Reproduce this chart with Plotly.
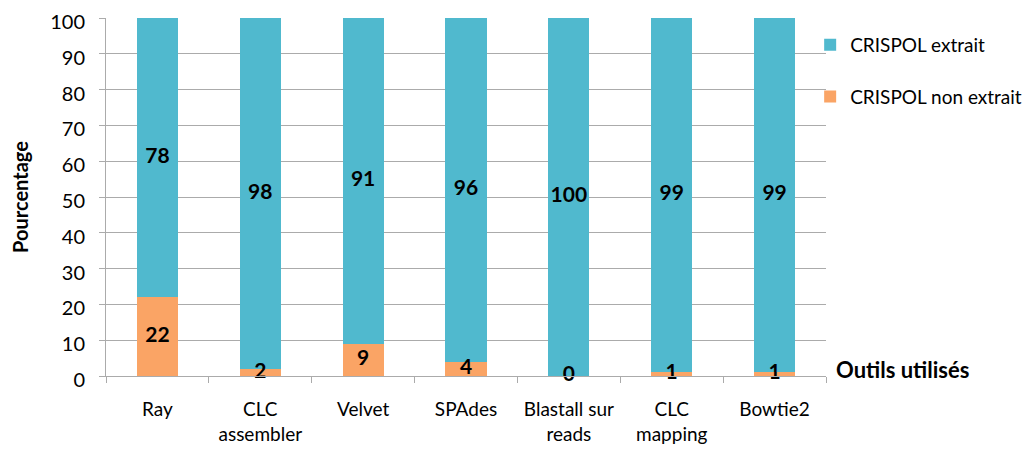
import plotly.graph_objects as go

categories = ["Ray", "CLC<br>assembler", "Velvet", "SPAdes", "Blastall sur<br>reads", "CLC<br>mapping", "Bowtie2"]
extrait = [78, 98, 91, 96, 100, 99, 99]
non_extrait = [22, 2, 9, 4, 0, 1, 1]
y_ticks = list(range(0, 101, 10))

BLUE = "#50B9CE"
ORANGE = "#FAA465"
GRID = "#ABABAB"
FONT = "Lato"

fig = go.Figure()
fig.add_trace(go.Bar(x=categories, y=non_extrait, name="CRISPOL non extrait",
                     marker=dict(color=ORANGE, line=dict(width=0)), width=0.4,
                     legendrank=2, legendgroup="b"))
fig.add_trace(go.Bar(x=categories, y=extrait, name="CRISPOL extrait",
                     marker=dict(color=BLUE, line=dict(width=0)), width=0.4,
                     legendrank=1, legendgroup="a"))

# data labels centred in each segment
label_font = dict(family=FONT, size=21, color="black", weight="bold")
fig.add_trace(go.Scatter(x=categories, y=[v / 2 for v in non_extrait],
                         text=[str(v) for v in non_extrait], mode="text",
                         textfont=label_font,
                         showlegend=False, cliponaxis=False, hoverinfo="skip"))
fig.add_trace(go.Scatter(x=categories, y=[n + e / 2 for n, e in zip(non_extrait, extrait)],
                         text=[str(v) for v in extrait], mode="text",
                         textfont=label_font,
                         showlegend=False, cliponaxis=False, hoverinfo="skip"))

fig.update_layout(
    width=1032, height=454,
    barmode="stack",
    plot_bgcolor="white", paper_bgcolor="white",
    margin=dict(l=98, r=214, t=10, b=86, autoexpand=False),
    font=dict(family=FONT, size=19, color="black"),
    legend=dict(x=0.978, y=0.978, xanchor="left", yanchor="top",
                font=dict(size=19), tracegroupgap=24, itemwidth=30,
                bgcolor="rgba(0,0,0,0)"),
    annotations=[dict(text="<b>Outils utilisés</b>", xref="paper", yref="paper",
                      x=1.011, y=0, xanchor="left", yanchor="middle", yshift=7,
                      showarrow=False, font=dict(size=22, family=FONT))],
)
fig.update_yaxes(range=[0, 100], tickvals=y_ticks, showgrid=True, gridcolor=GRID, gridwidth=1,
                 showline=True, linecolor=GRID, linewidth=1, ticks="outside", ticklen=6,
                 tickcolor=GRID, tickfont=dict(size=20), zeroline=False, automargin=False,
                 ticklabelstandoff=10, ticklabelshift=4, ticklabeloverflow="allow",
                 title=dict(text="<b>Pourcentage</b>", font=dict(size=20), standoff=32))
fig.update_xaxes(showline=True, linecolor=GRID, linewidth=1, ticks="outside", ticklen=6,
                 tickcolor=GRID, tickson="boundaries", tickfont=dict(size=19),
                 ticklabelstandoff=16, automargin=False, ticklabeloverflow="allow")

fig.write_html("out.html")
